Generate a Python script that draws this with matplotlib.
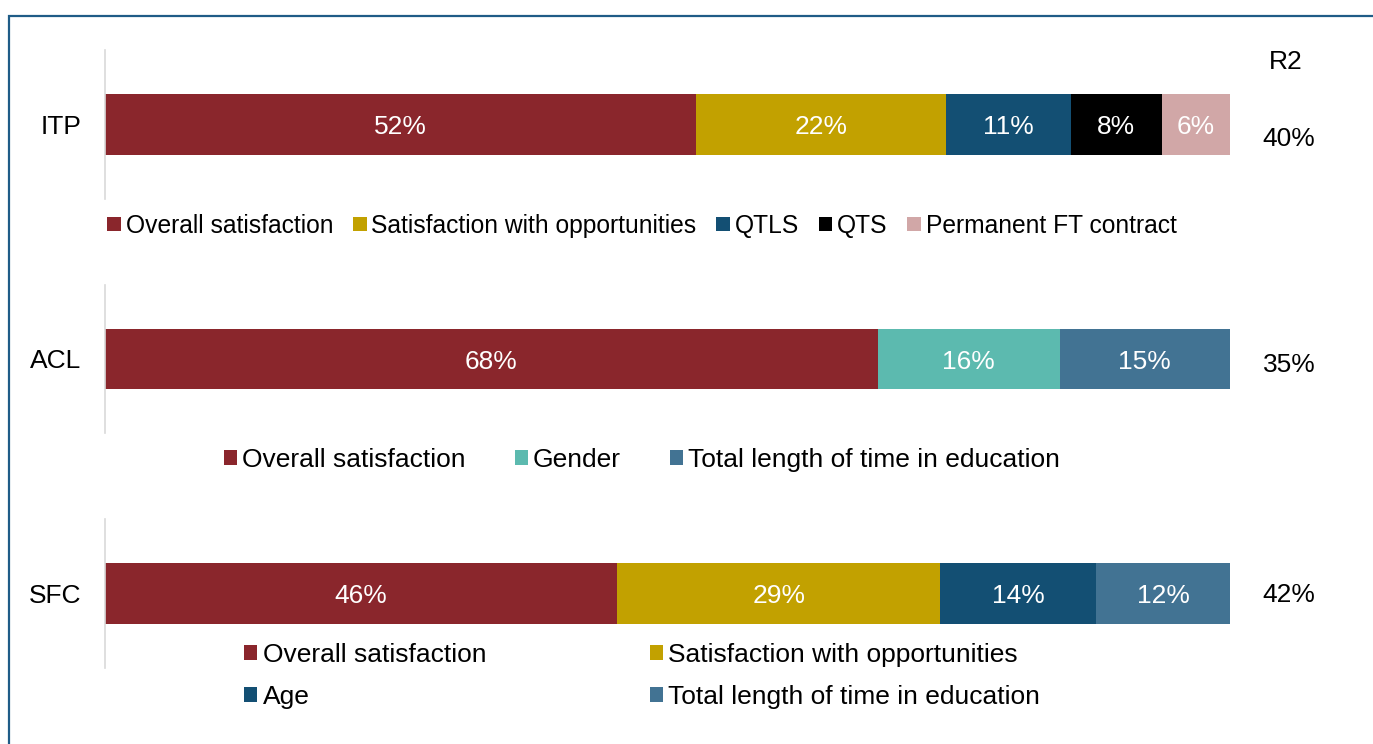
import matplotlib.pyplot as plt
from matplotlib.patches import Rectangle

plt.rcParams['font.family'] = ['Liberation Sans', 'DejaVu Sans']

# drivers of each group and their share of explained variance (%)
itp_labels = ["Overall satisfaction", "Satisfaction with opportunities", "QTLS", "QTS", "Permanent FT contract"]
itp_values = [52, 22, 11, 8, 6]
acl_labels = ["Overall satisfaction", "Gender", "Total length of time in education"]
acl_values = [68, 16, 15]
sfc_labels = ["Overall satisfaction", "Satisfaction with opportunities", "Age", "Total length of time in education"]
sfc_values = [46, 29, 14, 12]
groups = ["ITP", "ACL", "SFC"]
r2_values = [40, 35, 42]

colours = {
    "Overall satisfaction": "#8A262C",
    "Satisfaction with opportunities": "#C2A100",
    "QTLS": "#134F73",
    "QTS": "#000000",
    "Permanent FT contract": "#D1A7A7",
    "Gender": "#5CBAAF",
    "Age": "#134F73",
    "Total length of time in education": "#427393",
}

W, H = 1373, 744
fig = plt.figure(figsize=(W / 100, H / 100), dpi=100)

# outer frame
fig.patches.append(Rectangle((8.5 / W, -0.1), 1.2, 1 - 15.5 / H + 0.1, transform=fig.transFigure,
                             fill=False, edgecolor="#1F5C87", linewidth=1.6))


def px_axes(top, bottom, left=105, right=1230):
    return fig.add_axes([left / W, 1 - bottom / H, (right - left) / W, (bottom - top) / H])


def stacked(ax, name, labels, values):
    left = 0
    bars = []
    for lab, val in zip(labels, values):
        b = ax.barh(0, val, left=left, height=0.403, color=colours[lab], label=lab)
        ax.text(left + val / 2, -0.02, f"{val}%", ha="center", va="center", color="white", fontsize=19)
        bars.append(b)
        left += val
    ax.set_xlim(0, sum(values))
    ax.set_ylim(-0.5, 0.5)
    ax.set_yticks([0])
    ax.set_yticklabels([name], fontsize=19)
    ax.tick_params(axis="y", length=0, pad=17)
    ax.set_xticks([])
    for s in ["top", "right", "bottom"]:
        ax.spines[s].set_visible(False)
    ax.spines["left"].set_color("#D9D9D9")
    ax.spines["left"].set_linewidth(1.2)
    return bars


ax1 = px_axes(50, 199)
b1 = stacked(ax1, groups[0], itp_labels, itp_values)
ax2 = px_axes(285, 433)
b2 = stacked(ax2, groups[1], acl_labels, acl_values)
ax3 = px_axes(519, 668)
b3 = stacked(ax3, groups[2], sfc_labels, sfc_values)

common = dict(loc="center", frameon=False, handleheight=0.5,
              handletextpad=0.2, borderpad=0, borderaxespad=0)
fig.legend(b1, itp_labels, ncol=5, fontsize=17.7, columnspacing=0.8, handlelength=0.55,
           bbox_to_anchor=(642 / W, 1 - 226 / H), **common)
fig.legend(b2, acl_labels, ncol=3, fontsize=19, columnspacing=1.85, handlelength=0.5,
           bbox_to_anchor=(642 / W, 1 - 460 / H), **common)
order = [0, 2, 1, 3]
fig.legend([b3[i] for i in order], [sfc_labels[i] for i in order], ncol=2, fontsize=19,
           columnspacing=6.2, labelspacing=0.68, handlelength=0.5,
           bbox_to_anchor=(642 / W, 1 - 676 / H), **common)

# R2 column
fig.text(1286 / W, 1 - 62 / H, "R2", ha="center", va="center", fontsize=19)
for val, y in zip(r2_values, [139, 365, 595]):
    fig.text(1289 / W, 1 - y / H, f"{val}%", ha="center", va="center", fontsize=19)

plt.savefig("out.png", dpi=100)
plt.close()
